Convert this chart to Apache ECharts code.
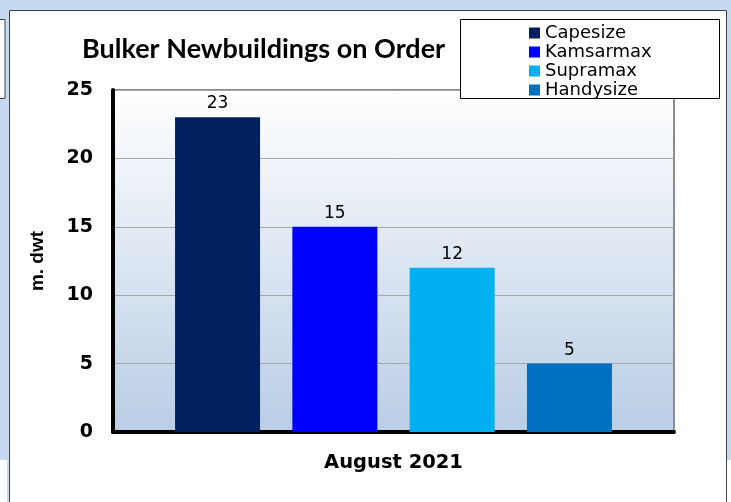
<!DOCTYPE html>
<html>
<head>
<meta charset="utf-8">
<script src="https://cdn.jsdelivr.net/npm/echarts@6/dist/echarts.min.js"></script>
<style>
  html, body { margin: 0; padding: 0; background: #fff; }
  #chart { width: 731px; height: 502px; }
</style>
</head>
<body>
<div id="chart"></div>
<script>
var categories = ['August 2021'];
var seriesNames = ['Capesize', 'Kamsarmax', 'Supramax', 'Handysize'];
var seriesValues = [[23], [15], [12], [5]];
var seriesColors = ['#002060', '#0000ff', '#00b0f0', '#0070c0'];
var yTicks = [0, 5, 10, 15, 20, 25];

var myChart = echarts.init(document.getElementById('chart'));

var series = seriesNames.map(function (name, i) {
    return {
        name: name,
        type: 'bar',
        data: seriesValues[i],
        barWidth: 85,
        barGap: '38%',
        itemStyle: { color: seriesColors[i] },
        label: {
            show: true,
            position: 'top',
            distance: 5,
            color: '#000',
            fontSize: 17,
            fontFamily: 'DejaVu Sans'
        }
    };
});

var option = {
    backgroundColor: '#c6d9f0',
    animation: false,
    title: {
        text: 'Bulker Newbuildings on Order',
        left: 77,
        top: 31,
        textStyle: { fontSize: 27, fontWeight: 'bold', fontFamily: 'Lato', color: '#000' }
    },
    legend: {
        orient: 'vertical',
        left: 529,
        top: 24,
        padding: 0,
        itemWidth: 11,
        itemHeight: 11,
        itemGap: 1,
        icon: 'rect',
        z: 10,
        textStyle: { fontSize: 18, lineHeight: 16, fontFamily: 'DejaVu Sans', color: '#000', padding: [0, 0, 0, 0] },
        data: seriesNames
    },
    graphic: {
        elements: [
            { type: 'rect', z: -10, shape: { x: 9.5, y: 10.5, width: 717, height: 500 },
              style: { fill: '#fff', stroke: '#404040', lineWidth: 1 } },
            { type: 'rect', z: -10, shape: { x: -2, y: 460, width: 9, height: 50 },
              style: { fill: '#fff' } },
            { type: 'rect', z: -10, shape: { x: 727, y: 460, width: 10, height: 50 },
              style: { fill: '#fff' } },
            { type: 'rect', z: -10, shape: { x: -2.5, y: 19.5, width: 7.5, height: 79 },
              style: { fill: '#fff', stroke: '#404040', lineWidth: 1 } },
            { type: 'rect', z: 5, shape: { x: 460.5, y: 19.5, width: 259, height: 79 },
              style: { fill: '#fff', stroke: '#000', lineWidth: 1 } }
        ]
    },
    grid: {
        left: 113,
        right: 57,
        top: 90,
        bottom: 70,
        show: true,
        borderColor: '#8c8c8c',
        borderWidth: 2,
        backgroundColor: new echarts.graphic.LinearGradient(0, 0, 0, 1, [
            { offset: 0, color: '#ffffff' },
            { offset: 1, color: '#b9cde5' }
        ])
    },
    xAxis: {
        type: 'category',
        data: categories,
        axisTick: { show: false },
        axisLine: { lineStyle: { color: '#000', width: 4 } },
        axisLabel: { margin: 21, fontSize: 19.5, fontWeight: 'bold', fontFamily: 'DejaVu Sans', color: '#000' }
    },
    yAxis: {
        type: 'value',
        min: yTicks[0],
        max: yTicks[yTicks.length - 1],
        interval: 5,
        name: 'm. dwt',
        nameLocation: 'middle',
        nameRotate: 90,
        nameGap: 66,
        nameTextStyle: { fontSize: 19, fontWeight: 'bold', fontFamily: 'Liberation Sans', color: '#000' },
        axisLine: { show: true, lineStyle: { color: '#000', width: 4 } },
        axisTick: { show: false },
        splitLine: { lineStyle: { color: '#a6a6a6', width: 1 } },
        axisLabel: { margin: 20, fontSize: 19, fontWeight: 'bold', fontFamily: 'DejaVu Sans', color: '#000' }
    },
    series: series
};

myChart.setOption(option);
window.addEventListener('resize', function () {
    myChart.resize();
});
</script>
</body>
</html>
